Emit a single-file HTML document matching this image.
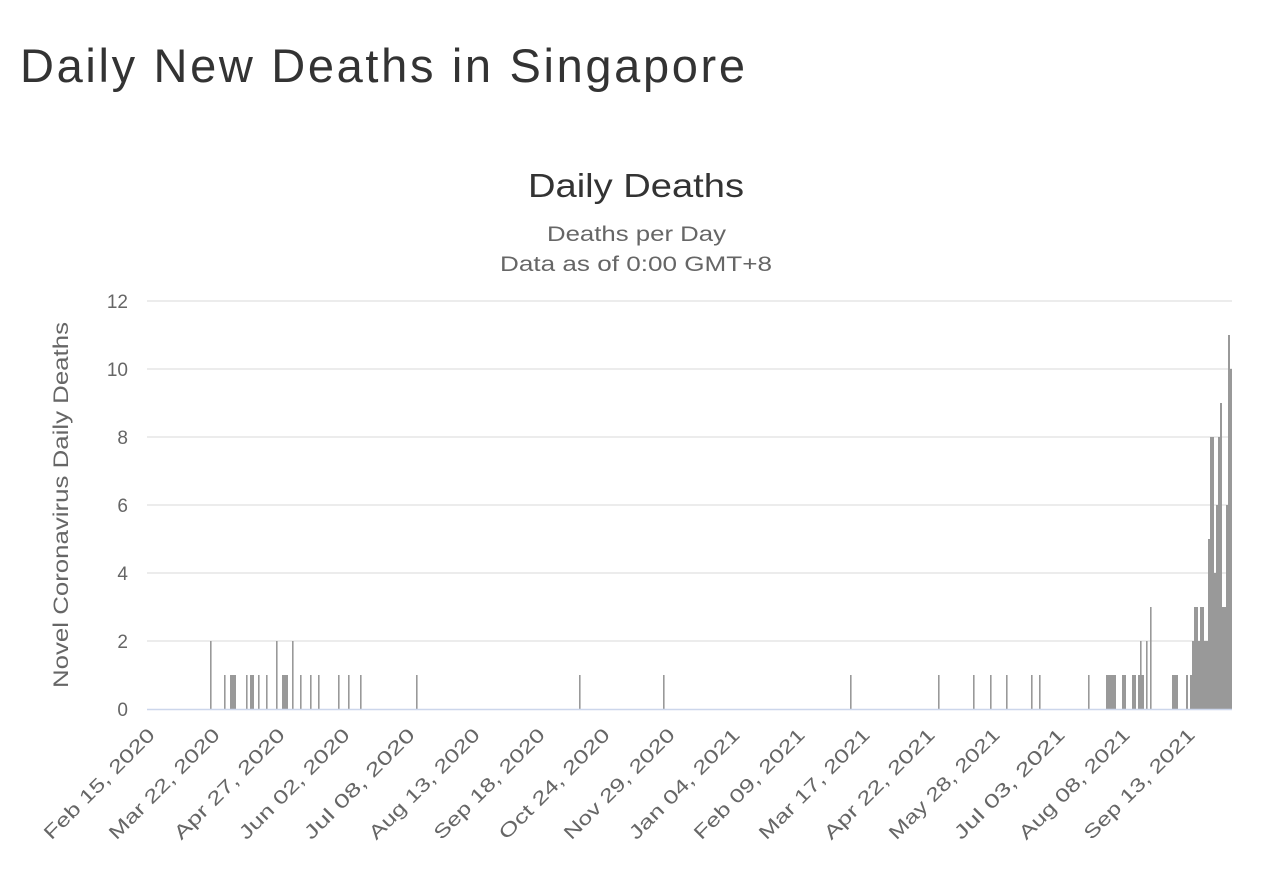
<!DOCTYPE html><html><head><meta charset="utf-8"><style>
body{margin:0;background:#fff;width:1274px;height:866px;overflow:hidden;font-family:"Liberation Sans",sans-serif}
</style></head><body>
<svg width="1274" height="866" xmlns="http://www.w3.org/2000/svg" font-family="Liberation Sans, sans-serif">
<text x="20" y="82" font-size="47" fill="#333" textLength="725" lengthAdjust="spacing">Daily New Deaths in Singapore</text>
<text x="528" y="197" font-size="33" fill="#333" textLength="216" lengthAdjust="spacingAndGlyphs">Daily Deaths</text>
<text x="547" y="241" font-size="21" fill="#666" textLength="179" lengthAdjust="spacingAndGlyphs">Deaths per Day</text>
<text x="500" y="271" font-size="21" fill="#666" textLength="272" lengthAdjust="spacingAndGlyphs">Data as of 0:00 GMT+8</text>
<g stroke="#e6e6e6" stroke-width="1.5">
<line x1="147" x2="1232" y1="301" y2="301"/><line x1="147" x2="1232" y1="369" y2="369"/><line x1="147" x2="1232" y1="437" y2="437"/><line x1="147" x2="1232" y1="505" y2="505"/><line x1="147" x2="1232" y1="573" y2="573"/><line x1="147" x2="1232" y1="641" y2="641"/>
</g>
<g font-size="19" fill="#666" text-anchor="end">
<text x="128" y="308">12</text><text x="128" y="376">10</text><text x="128" y="444">8</text><text x="128" y="512">6</text><text x="128" y="580">4</text><text x="128" y="648">2</text><text x="128" y="716">0</text>
</g>
<text transform="translate(68,688) rotate(-90)" font-size="21" fill="#666" textLength="366" lengthAdjust="spacingAndGlyphs">Novel Coronavirus Daily Deaths</text>
<g fill="#999" id="bars"></g>
<line x1="147" x2="1232" y1="709.5" y2="709.5" stroke="#ccd6eb" stroke-width="1.5"/>
<g font-size="19" fill="#666" text-anchor="end" id="xl"></g>
</svg>
<script>
var b=[[210,2],[224,1],[230,1,6],[246,1],[250,1,4],[258,1],[266,1],[276,2],[282,1,6],[292,2],[300,1],[310,1],[318,1],[338,1],[348,1],[360,1],[416,1],[579,1],[663,1],[850,1],[938,1],[973,1],[990,1],[1006,1],[1031,1],[1039,1],[1088,1],[1106,1,10],[1122,1,4],[1132,1,4],[1138,1,6],[1140,2],[1146,2],[1150,3],[1172,1,6],[1186,1,2],[1190,1,2],[1192,2,2],[1194,3,4],[1198,2,2],[1200,3,4],[1204,2,4],[1208,5,2],[1210,8,4],[1214,4,2],[1216,6,2],[1218,8,2],[1220,9,2],[1222,3,4],[1226,6,2],[1228,11,2],[1230,10,2]];
var g=document.getElementById('bars'),s='';
b.forEach(function(a){var w=a[2]||1.6,h=a[1]*34;s+='<rect x="'+a[0]+'" y="'+(709-h)+'" width="'+w+'" height="'+h+'"/>';});
g.innerHTML=s;
var L=["Feb 15, 2020","Mar 22, 2020","Apr 27, 2020","Jun 02, 2020","Jul 08, 2020","Aug 13, 2020","Sep 18, 2020","Oct 24, 2020","Nov 29, 2020","Jan 04, 2021","Feb 09, 2021","Mar 17, 2021","Apr 22, 2021","May 28, 2021","Jul 03, 2021","Aug 08, 2021","Sep 13, 2021"],t='';
L.forEach(function(l,i){var x=156+i*65;t+='<text transform="translate('+x+',736) rotate(-45)" textLength="148" lengthAdjust="spacingAndGlyphs">'+l+'</text>';});
document.getElementById('xl').innerHTML=t;
</script>
</body></html>
